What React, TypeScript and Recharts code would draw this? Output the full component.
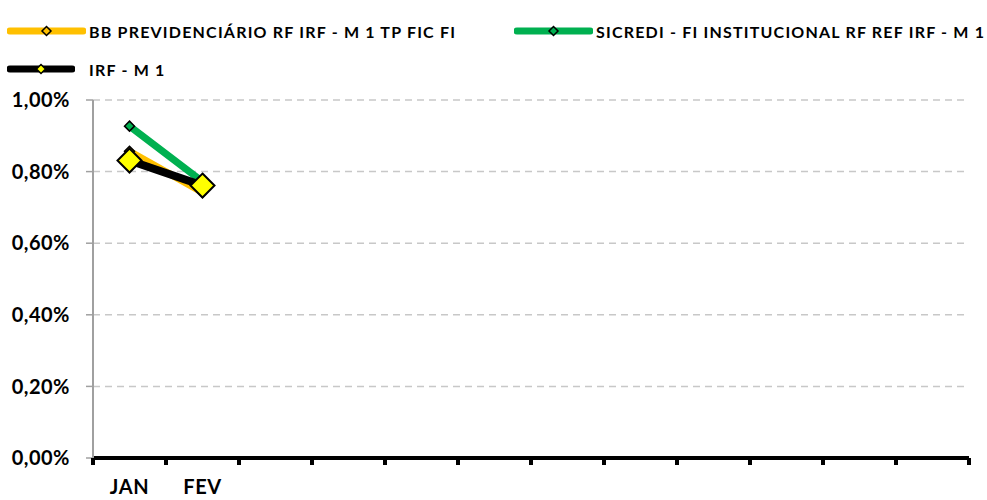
import { LineChart, Line, XAxis, YAxis, CartesianGrid } from 'recharts'

const months = ['JAN', 'FEV', '', '', '', '', '', '', '', '', '', '']
const bbPrev = [0.857, 0.742]
const sicredi = [0.927, 0.772]
const irfM1 = [0.831, 0.761]
const yTicks = [0, 0.2, 0.4, 0.6, 0.8, 1.0]

const series = [
  { key: 'bb', name: 'BB PREVIDENCIÁRIO RF IRF - M 1 TP FIC FI', color: '#FFC000', dotFill: '#FFC000', dotSize: 5, width: 7 },
  { key: 'sicredi', name: 'SICREDI - FI INSTITUCIONAL RF REF IRF - M 1', color: '#00B050', dotFill: '#00B050', dotSize: 5, width: 7 },
  { key: 'irf', name: 'IRF - M 1', color: '#000000', dotFill: '#FFFF00', dotSize: 12, width: 8 },
]

const data = months.map((m, i) => ({
  idx: i,
  month: m,
  bb: bbPrev[i] ?? null,
  sicredi: sicredi[i] ?? null,
  irf: irfM1[i] ?? null,
}))

const FONT = 'Lato, "Open Sans", sans-serif'
const LABEL_GAP = 22

function Diamond({ cx, cy, r, fill }: any) {
  if (cx == null || cy == null) return null
  return (
    <path
      d={`M${cx},${cy - r} L${cx + r},${cy} L${cx},${cy + r} L${cx - r},${cy} Z`}
      fill={fill}
      stroke="#000"
      strokeWidth={r > 8 ? 2 : 1.5}
    />
  )
}

// month label plus Excel-style tick marks between the categories
function MonthTick(props: any) {
  const { x, y, payload, width, visibleTicksCount, index } = props
  const half = width && visibleTicksCount ? width / visibleTicksCount / 2 : 36.5
  const axisY = y - LABEL_GAP
  const mark = (mx: number) => (
    <line x1={mx} x2={mx} y1={axisY} y2={axisY + 7} stroke="#000" strokeWidth={4} />
  )
  return (
    <g>
      {mark(x - half)}
      {index === visibleTicksCount - 1 && mark(x + half)}
      <text
        x={x}
        y={y}
        dy="0.71em"
        textAnchor="middle"
        fill="#000"
        style={{ fontFamily: FONT, fontWeight: 700, fontSize: 20, letterSpacing: 0.6 }}
      >
        {months[payload.value]}
      </text>
    </g>
  )
}

function LegendItem({ s, x, y, lineLen }: any) {
  return (
    <div style={{ position: 'absolute', left: x, top: y - 12, height: 24, display: 'flex', alignItems: 'center' }}>
      <svg width={lineLen + 6} height={24} style={{ display: 'block' }}>
        <line x1={3} y1={12} x2={lineLen + 3} y2={12} stroke={s.color} strokeWidth={7} strokeLinecap="round" />
        <Diamond cx={lineLen / 2 + 3} cy={12} r={4.5} fill={s.dotFill} />
      </svg>
      <span
        style={{
          position: 'absolute',
          left: 82,
          whiteSpace: 'nowrap',
          fontFamily: FONT,
          fontWeight: 700,
          fontSize: 16,
          letterSpacing: 1.2,
          color: '#000',
        }}
      >
        {s.name}
      </span>
    </div>
  )
}

export default function App() {
  return (
    <div style={{ position: 'absolute', left: 0, top: 0, width: 987, height: 500, background: '#fff' }}>
      <LegendItem s={series[0]} x={7} y={31} lineLen={73} />
      <LegendItem s={series[1]} x={514} y={31} lineLen={73} />
      <LegendItem s={series[2]} x={7} y={69} lineLen={62} />
      <div style={{ position: 'absolute', left: 0, top: 0 }}>
        <LineChart width={987} height={500} data={data} margin={{ top: 100, right: 18, bottom: 0, left: 0 }}>
          <CartesianGrid horizontal vertical={false} stroke="#c8c8c8" strokeDasharray="7 5" strokeWidth={1.5} />
          <XAxis
            dataKey="idx"
            type="category"
            height={42}
            padding={{ left: 36.5, right: 36.5 }}
            axisLine={{ stroke: '#000', strokeWidth: 4 }}
            tickLine={false}
            tickSize={0}
            tickMargin={LABEL_GAP}
            interval={0}
            tick={<MonthTick />}
          />
          <YAxis
            width={93}
            domain={[0, 1]}
            ticks={yTicks}
            interval={0}
            axisLine={{ stroke: '#a0a0a0', strokeWidth: 2 }}
            tickLine={{ stroke: '#a0a0a0', strokeWidth: 1.5 }}
            tickSize={7}
            tickMargin={16}
            tickFormatter={(v: number) => v.toFixed(2).replace('.', ',') + '%'}
            tick={{ fill: '#000', fontFamily: FONT, fontWeight: 700, fontSize: 20, letterSpacing: 0.5 }}
          />
          {series.map((s) => (
            <Line
              key={s.key}
              dataKey={s.key}
              name={s.name}
              type="linear"
              stroke={s.color}
              strokeWidth={s.width}
              strokeLinecap="round"
              isAnimationActive={false}
              dot={(p: any) => <Diamond key={`${s.key}-${p.index}`} cx={p.cx} cy={p.cy} r={s.dotSize} fill={s.dotFill} />}
              activeDot={false}
            />
          ))}
        </LineChart>
      </div>
    </div>
  )
}
